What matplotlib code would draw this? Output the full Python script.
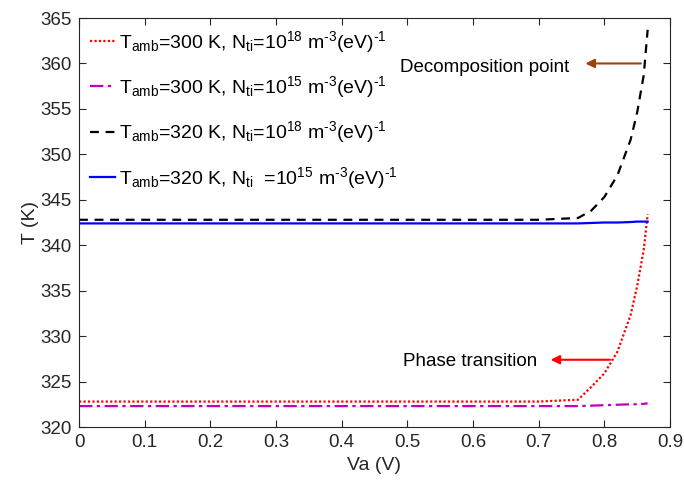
import numpy as np
import matplotlib
matplotlib.use('Agg')
import matplotlib.pyplot as plt

plt.rcParams['font.family']=['Liberation Sans','DejaVu Sans']
plt.rcParams['mathtext.default']='regular'
plt.rcParams['axes.unicode_minus']=False

# Va (V) sample points
va=[0.0,0.1,0.2,0.3,0.4,0.5,0.6,0.7,0.76,0.78,0.80,0.82,0.84,0.85,0.86,0.866]
# T (K) for each case
t300_18=[322.8,322.8,322.8,322.8,322.8,322.8,322.8,322.8,323.0,324.4,325.9,328.3,332.3,335.5,339.5,343.4]
t300_15=[322.3,322.3,322.3,322.3,322.3,322.3,322.3,322.3,322.3,322.35,322.4,322.45,322.5,322.5,322.55,322.6]
t320_18=[342.8,342.8,342.8,342.8,342.8,342.8,342.8,342.8,343.0,343.8,345.3,347.7,351.6,354.6,358.7,363.7]
t320_15=[342.4,342.4,342.4,342.4,342.4,342.4,342.4,342.4,342.4,342.45,342.5,342.5,342.55,342.6,342.6,342.6]

h='\u2010'
labels=[r'T$_{amb}$=300 K, N$_{ti}$=10$^{18}$ m$^{'+h+'3}$(eV)$^{'+h+'1}$',
        r'T$_{amb}$=300 K, N$_{ti}$=10$^{15}$ m$^{'+h+'3}$(eV)$^{'+h+'1}$',
        r'T$_{amb}$=320 K, N$_{ti}$=10$^{18}$ m$^{'+h+'3}$(eV)$^{'+h+'1}$',
        r'T$_{amb}$=320 K, N$_{ti}$  =10$^{15}$ m$^{'+h+'3}$(eV)$^{'+h+'1}$']

fig=plt.figure(figsize=(6.84,4.87),dpi=100)
ax=fig.add_axes([0.1155,0.1232,0.864,0.8398])
ax.plot(va,t300_18,color='red',ls=(0,(1,1)),lw=1.6,label=labels[0])
ax.plot(va,t300_15,color='m',ls=(0,(6,2,1.5,2)),lw=1.6,label=labels[1])
ax.plot(va,t320_18,color='k',ls=(0,(4,3)),lw=1.6,label=labels[2])
ax.plot(va,t320_15,color='blue',ls='-',lw=1.6,label=labels[3])

ax.annotate('',xy=(0.767,360),xytext=(0.86,360),
            arrowprops=dict(arrowstyle='-|>',color='#a0400b',lw=1.5,mutation_scale=13))
ax.text(0.617,359.6,'Decomposition point',fontsize=13.5,ha='center',va='center')
ax.annotate('',xy=(0.714,327.4),xytext=(0.813,327.4),
            arrowprops=dict(arrowstyle='-|>',color='red',lw=1.5,mutation_scale=13))
ax.text(0.596,327.2,'Phase transition',fontsize=13.5,ha='center',va='center')

ax.set_xlim(0,0.9)
ax.set_ylim(320,365)
ax.set_xticks(np.arange(0,0.91,0.1))
ax.set_xticklabels(['0','0.1','0.2','0.3','0.4','0.5','0.6','0.7','0.8','0.9'])
ax.set_yticks(np.arange(320,366,5))
ax.tick_params(direction='in',top=True,right=True,labelsize=13.5,colors='#262626',length=5,pad=5)
for s in ax.spines.values():
    s.set_color('#262626')
ax.set_xlabel('Va (V)',fontsize=14,color='#262626',labelpad=4)
ax.set_ylabel('T (K)',fontsize=14,color='#262626',labelpad=1)
ax.legend(loc='upper left',frameon=False,fontsize=14,handlelength=1.3,handletextpad=0.2,
          labelspacing=1.0,borderaxespad=0.15,borderpad=0.4)
plt.savefig('out.png',dpi=100)
